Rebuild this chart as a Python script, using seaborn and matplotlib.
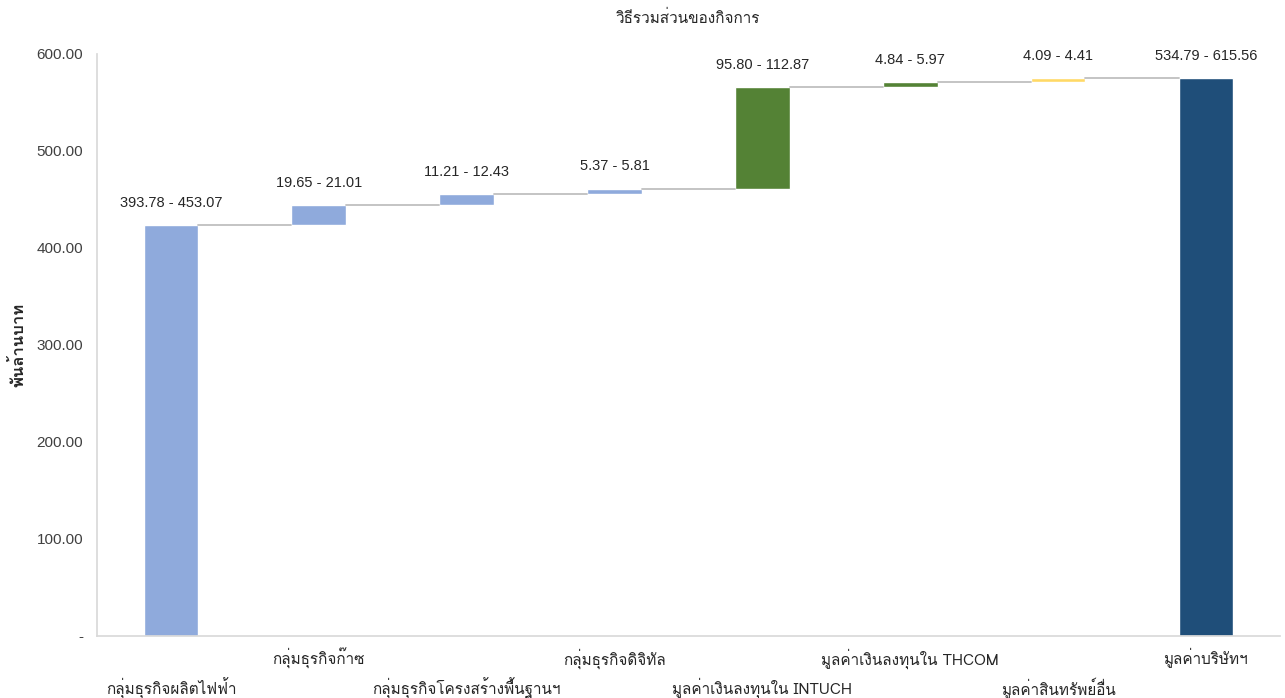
import numpy as np
import pandas as pd
import seaborn as sns
import matplotlib.pyplot as plt
from matplotlib import font_manager
from matplotlib.ft2font import FT2Font

# Waterfall data (values in billion baht)
categories = ["กลุ่มธุรกิจผลิตไฟฟ้า", "กลุ่มธุรกิจก๊าซ", "กลุ่มธุรกิจโครงสร้างพื้นฐานฯ",
              "กลุ่มธุรกิจดิจิทัล", "มูลค่าเงินลงทุนใน INTUCH", "มูลค่าเงินลงทุนใน THCOM",
              "มูลค่าสินทรัพย์อื่น", "มูลค่าบริษัทฯ"]
values = [423.4, 20.3, 11.8, 5.6, 104.3, 5.4, 4.3, 575.2]
range_labels = ["393.78 - 453.07", "19.65 - 21.01", "11.21 - 12.43", "5.37 - 5.81",
                "95.80 - 112.87", "4.84 - 5.97", "4.09 - 4.41", "534.79 - 615.56"]
colors = ["#8FAADC", "#8FAADC", "#8FAADC", "#8FAADC", "#548235", "#548235", "#FFD966", "#1F4E79"]

# find an installed font that has Thai glyphs
thai_font = None
for f in font_manager.fontManager.ttflist:
    try:
        if ord("ก") in FT2Font(f.fname).get_charmap():
            thai_font = f.name
            break
    except Exception:
        pass

sns.set_theme(style="white")
plt.rcParams["font.family"] = [thai_font, "DejaVu Sans"] if thai_font else ["DejaVu Sans"]
num_font = ["Liberation Sans", "DejaVu Sans"]

# bases of the floating bars
bases = list(np.cumsum([0] + values[:-2])) + [0]
df = pd.DataFrame({"cat": categories, "value": values})

fig = plt.figure(figsize=(12.85, 6.98), dpi=100)
ax = fig.add_axes([0.0755, 0.089, 0.9205, 0.834])
sns.barplot(data=df, x="cat", y="value", hue="cat", order=categories, hue_order=categories,
            palette=colors, width=0.37, legend=False, saturation=1, ax=ax)

for i, p in enumerate(ax.patches):
    p.set_y(bases[i])

# connectors
for i in range(len(values) - 1):
    top = bases[i] + values[i]
    ax.plot([i + 0.185, i + 1 - 0.185], [top, top], color="#BFBFBF", lw=1.3)

# range labels
for i, lab in enumerate(range_labels):
    ax.annotate(lab, (i, bases[i] + values[i]), xytext=(0, 11), textcoords="offset points",
                ha="center", va="bottom", fontsize=10.5, color="#262626", family=num_font)

ax.set_ylim(0, 600)
ax.set_xlim(-0.5, 7.5)
yt = [0, 100, 200, 300, 400, 500, 600]
ax.set_yticks(yt)
ax.set_yticklabels(["-"] + ["%.2f" % v for v in yt[1:]], fontsize=11, color="#404040",
                   family=num_font)
ax.set_xticks(range(len(categories)))
ax.set_xticklabels(categories, fontsize=11, color="#262626")
for i, t in enumerate(ax.xaxis.get_major_ticks()):
    t.set_pad(30 if i % 2 == 0 else 9)
ax.tick_params(axis="both", length=0)
ax.tick_params(axis="y", pad=10)

ax.set_xlabel("")
ax.set_ylabel("พันล้านบาท", fontsize=12, fontweight="bold")
ax.yaxis.set_label_coords(-0.06, 0.5)
ax.set_title("วิธีรวมส่วนของกิจการ", fontsize=11, pad=22)

for s in ["top", "right"]:
    ax.spines[s].set_visible(False)
ax.spines["left"].set_color("#D9D9D9")
ax.spines["bottom"].set_color("#D9D9D9")

fig.savefig("out.png", dpi=100)
